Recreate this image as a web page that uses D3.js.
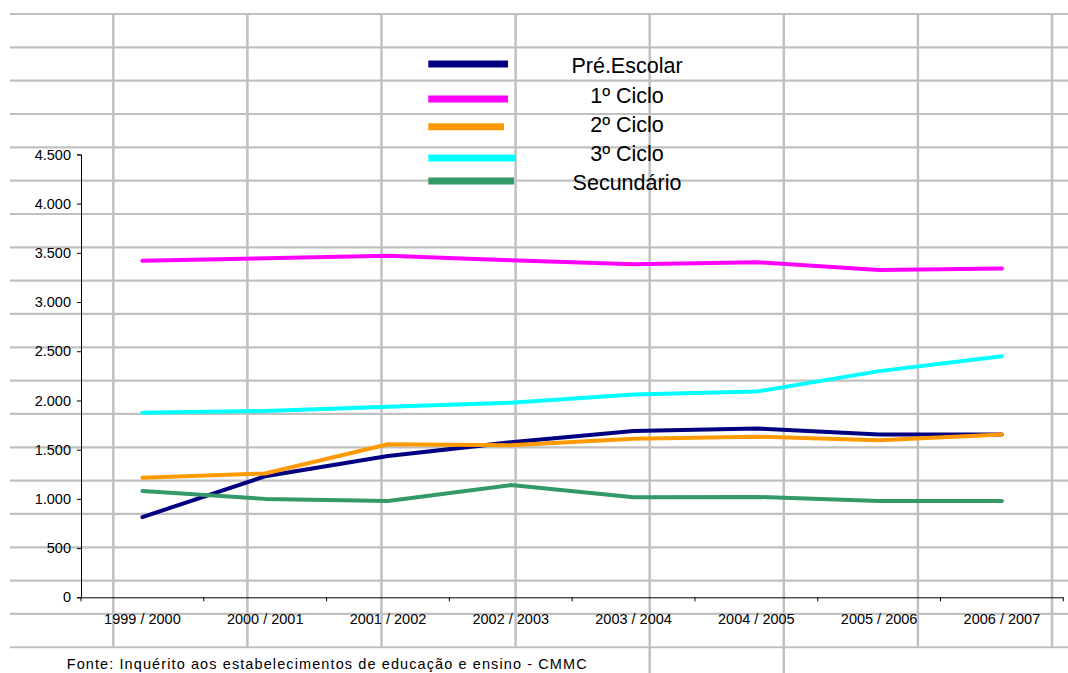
<!DOCTYPE html>
<html>
<head>
<meta charset="utf-8">
<script src="https://cdn.jsdelivr.net/npm/d3@7"></script>
<style>
  html, body { margin: 0; padding: 0; background: #fff; }
  svg { display: block; font-family: Arial, "Liberation Sans", sans-serif; }
</style>
</head>
<body>
<svg id="chart" width="1068" height="673"></svg>
<script>
// ---- data ----
const categories = ["1999 / 2000", "2000 / 2001", "2001 / 2002", "2002 / 2003",
                    "2003 / 2004", "2004 / 2005", "2005 / 2006", "2006 / 2007"];
const seriesNames = ["Pré.Escolar", "1º Ciclo", "2º Ciclo", "3º Ciclo", "Secundário"];
const preEscolar = [815, 1230, 1435, 1575, 1690, 1715, 1655, 1655];
const ciclo1     = [3420, 3445, 3470, 3425, 3385, 3405, 3325, 3340];
const ciclo2     = [1215, 1258, 1555, 1545, 1612, 1632, 1596, 1655];
const ciclo3     = [1875, 1893, 1935, 1977, 2060, 2090, 2298, 2450];
const secundario = [1080, 1000, 978, 1140, 1016, 1020, 978, 978];
const yTicks = [0, 500, 1000, 1500, 2000, 2500, 3000, 3500, 4000, 4500];
const yTickLabels = ["0", "500", "1.000", "1.500", "2.000", "2.500", "3.000", "3.500", "4.000", "4.500"];
const sourceText = "Fonte: Inquérito aos estabelecimentos de educação e ensino - CMMC";

// ---- styles ----
const colors = ["#000080", "#FF00FF", "#FF9900", "#00FFFF", "#339966"];
const seriesValues = [preEscolar, ciclo1, ciclo2, ciclo3, secundario];
const series = seriesNames.map((n, i) => ({ name: n, values: seriesValues[i], color: colors[i] }));

const svg = d3.select("#chart");
const W = 1068, H = 673;

// ---- spreadsheet grid background ----
const grid = svg.append("g").attr("stroke", "#c0c0c0");
const rowYs = d3.range(20).map(k => 14 + k * 33.33);
grid.selectAll("line.h").data(rowYs).join("line")
  .attr("x1", 10).attr("x2", W).attr("y1", d => d).attr("y2", d => d)
  .attr("stroke-width", 2.2);
const colXs = d3.range(8).map(k => 113.3 + k * 134.1);
grid.selectAll("line.v").data(colXs).join("line")
  .attr("x1", d => d).attr("x2", d => d).attr("y1", 14)
  .attr("y2", (d, i) => (i === 4 || i === 5) ? H : 647.3)
  .attr("stroke-width", 2.5);

// ---- scales ----
const plotLeft = 81, plotRight = 1063.3, plotTop = 154.4, plotBottom = 597.3;
const x = d3.scaleBand().domain(categories).range([plotLeft, plotRight]).padding(0);
const y = d3.scaleLinear().domain([0, 4500]).range([plotBottom, plotTop]);

// ---- axes ----
const yAxis = d3.axisLeft(y).tickValues(yTicks)
  .tickFormat((d, i) => yTickLabels[i]).tickSize(4).tickPadding(6);
const gy = svg.append("g").attr("transform", `translate(${plotLeft},0)`).call(yAxis);
gy.select(".domain").attr("stroke", "#000").attr("stroke-width", 1);
gy.selectAll(".tick line").attr("stroke", "#000");
gy.selectAll("text").attr("font-size", "14.5px").attr("fill", "#000")
  .attr("font-family", "Arial, 'Liberation Sans', sans-serif");

const xAxis = d3.axisBottom(x).tickSize(0).tickPadding(0);
const gx = svg.append("g").attr("transform", `translate(0,${plotBottom})`).call(xAxis);
gx.select(".domain").attr("stroke", "#000").attr("stroke-width", 1)
  .attr("d", `M${plotLeft},0.5H${plotRight}`);
gx.selectAll("text").attr("font-size", "14.5px").attr("fill", "#000")
  .attr("dy", null).attr("y", 26.5)
  .attr("font-family", "Arial, 'Liberation Sans', sans-serif");
// category boundary ticks
const boundaries = categories.map(c => x(c)).concat([plotRight]);
gx.selectAll("line.bt").data(boundaries).join("line")
  .attr("x1", d => d).attr("x2", d => d).attr("y1", 0).attr("y2", 4)
  .attr("stroke", "#000").attr("stroke-width", 1);

// ---- lines ----
const line = d3.line()
  .x((d, i) => x(categories[i]) + x.bandwidth() / 2)
  .y(d => y(d));
svg.append("g").selectAll("path").data(series).join("path")
  .attr("d", d => line(d.values))
  .attr("fill", "none")
  .attr("stroke", d => d.color)
  .attr("stroke-width", 4)
  .attr("stroke-linejoin", "round")
  .attr("stroke-linecap", "round");

// ---- legend ----
const legendBaselines = [72.7, 102.7, 131.7, 160.7, 190];
const legendLineDy = [-8.7, -3.7, -5, -2.7, -9];
const legendLineEnd = [508, 508, 504, 516, 514];
const lg = svg.append("g");
lg.selectAll("line").data(series).join("line")
  .attr("x1", 428.3).attr("x2", (d, i) => legendLineEnd[i])
  .attr("y1", (d, i) => legendBaselines[i] + legendLineDy[i])
  .attr("y2", (d, i) => legendBaselines[i] + legendLineDy[i])
  .attr("stroke", d => d.color).attr("stroke-width", 7);
lg.selectAll("text").data(series).join("text")
  .attr("x", 627).attr("y", (d, i) => legendBaselines[i])
  .attr("text-anchor", "middle").attr("font-size", "21.5px").attr("fill", "#000")
  .text(d => d.name);

// ---- source note ----
svg.append("text").attr("x", 66.7).attr("y", 669)
  .attr("font-size", "14.5px").attr("fill", "#000")
  .attr("textLength", 520).attr("lengthAdjust", "spacing")
  .text(sourceText);
</script>
</body>
</html>
